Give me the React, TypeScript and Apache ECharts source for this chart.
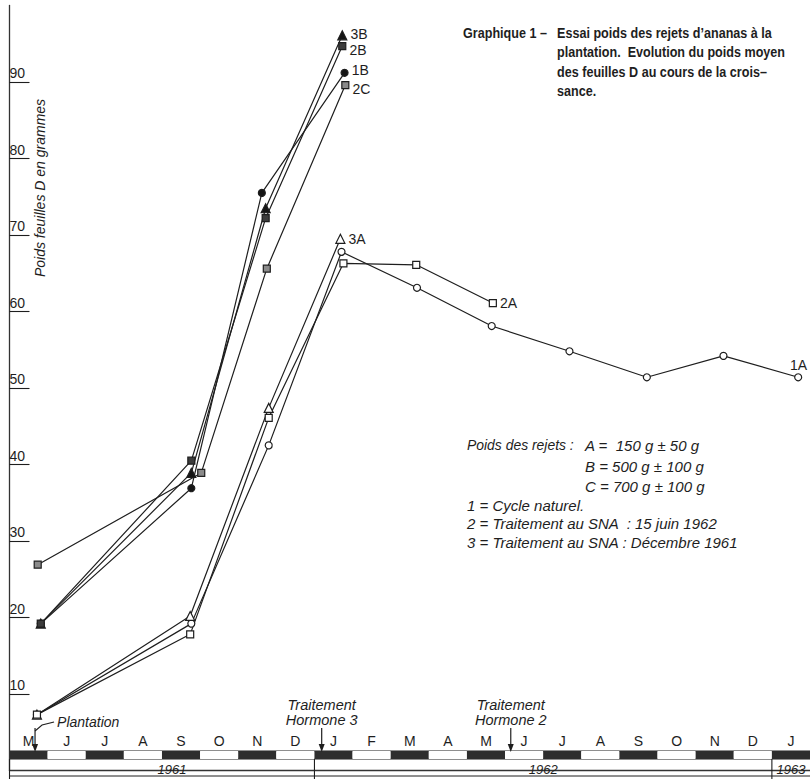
import React, { useEffect, useRef } from 'react';
import * as echarts from 'echarts';

// Month letters of the time band (May 1961 -> Jan 1963)
const monthLetters = ['M', 'J', 'J', 'A', 'S', 'O', 'N', 'D', 'J', 'F', 'M', 'A', 'M', 'J', 'J', 'A', 'S', 'O', 'N', 'D', 'J'];
const yTickValues = [10, 20, 30, 40, 50, 60, 70, 80, 90];

// Dates are expressed in months elapsed since 1 May 1961
const dates1A = [0.72, 4.77, 6.8, 8.71, 10.69, 12.65, 14.69, 16.72, 18.73, 20.69];
const values1A = [7.3, 19.2, 42.5, 67.8, 63.1, 58.1, 54.8, 51.4, 54.2, 51.4];
const dates2A = [0.72, 4.74, 6.8, 8.76, 10.67, 12.68];
const values2A = [7.3, 17.8, 46.1, 66.3, 66.1, 61.1];
const dates3A = [0.72, 4.74, 6.8, 8.68];
const values3A = [7.3, 20.2, 47.4, 69.5];
const dates1B = [0.82, 4.77, 6.62, 8.79];
const values1B = [19.2, 36.9, 75.5, 91.2];
const dates2B = [0.82, 4.77, 6.72, 8.73];
const values2B = [19.2, 40.5, 72.2, 94.7];
const dates3B = [0.82, 4.77, 6.72, 8.73];
const values3B = [19.2, 38.9, 73.5, 96.1];
const dates2C = [0.74, 5.03, 6.75, 8.81];
const values2C = [26.9, 38.9, 65.6, 89.6];

const yearNames = ['1961', '1962', '1963'];
const yearStarts = [0, 8, 20];
const yearEnds = [8, 20, 32];

const annotationDates = [0.67, 8.19, 13.15];
const annotationTexts = ['Plantation', 'Traitement\nHormone 3', 'Traitement\nHormone 2'];

const titleLead = 'Graphique 1 –';
const titleLines = [
  'Essai poids des rejets d’ananas à la',
  'plantation.  Evolution du poids moyen',
  'des feuilles D au cours de la crois–',
  'sance.',
];
const yAxisTitle = 'Poids feuilles D en grammes';
const noteLead = 'Poids des rejets :';
const noteWeights = ['A =  150 g ± 50 g', 'B = 500 g ± 100 g', 'C = 700 g ± 100 g'];
const noteCodes = ['1 = Cycle naturel.', '2 = Traitement au SNA  : 15 juin 1962', '3 = Traitement au SNA : Décembre 1961'];

const INK = '#1e1e1e';
const FONT_HAND = '"Liberation Sans", "DejaVu Sans", sans-serif';

type SeriesDef = { name: string; dates: number[]; values: number[]; symbol: string; fill: string; labelDy: number };

const seriesDefs: SeriesDef[] = [
  { name: '1A', dates: dates1A, values: values1A, symbol: 'circle', fill: '#ffffff', labelDy: 0 },
  { name: '3A', dates: dates3A, values: values3A, symbol: 'triangle', fill: '#ffffff', labelDy: 0 },
  { name: '2A', dates: dates2A, values: values2A, symbol: 'rect', fill: '#ffffff', labelDy: 0 },
  { name: '2C', dates: dates2C, values: values2C, symbol: 'rect', fill: '#8a8a8a', labelDy: 4 },
  { name: '1B', dates: dates1B, values: values1B, symbol: 'circle', fill: '#151515', labelDy: -3 },
  { name: '3B', dates: dates3B, values: values3B, symbol: 'triangle', fill: '#151515', labelDy: -1 },
  { name: '2B', dates: dates2B, values: values2B, symbol: 'rect', fill: '#3c3c3c', labelDy: 4 },
];

export default function App() {
  const ref = useRef<HTMLDivElement>(null);

  useEffect(() => {
    if (!ref.current) return;
    const chart = echarts.init(ref.current, undefined, { renderer: 'svg' });

    const lineSeries = seriesDefs.map((s) => ({
      type: 'line',
      name: s.name,
      xAxisIndex: 0,
      yAxisIndex: 0,
      showAllSymbol: true,
      symbol: s.symbol,
      symbolSize: s.symbol === 'triangle' ? 9 : 7,
      itemStyle: { color: s.fill, borderColor: INK, borderWidth: 1.2 },
      lineStyle: { color: INK, width: 1.2 },
      label: { show: false },
      data: s.values.map((v, i) => {
        if (i === s.values.length - 1) {
          return {
            value: [s.dates[i], v],
            label: {
              show: true,
              formatter: s.name,
              position: s.name === '1A' ? [-4, -15] : 'right',
              distance: 3,
              offset: [0, s.labelDy],
              color: INK,
              fontSize: 14,
              fontFamily: FONT_HAND,
            },
          };
        }
        return [s.dates[i], v];
      }),
    }));

    const annotationSeries = {
      type: 'custom',
      xAxisIndex: 0,
      yAxisIndex: 0,
      clip: false,
      silent: true,
      data: annotationDates.map((d) => [d, 0]),
      renderItem: (params: any, api: any) => {
        const i = params.dataIndex;
        const x = api.coord([api.value(0), 0])[0];
        const bandTop = 751;
        const children: any[] = [
          { type: 'line', shape: { x1: x, y1: 728, x2: x, y2: bandTop - 5 }, style: { stroke: INK, lineWidth: 1.2 } },
          { type: 'polygon', shape: { points: [[x - 3, bandTop - 7], [x + 3, bandTop - 7], [x, bandTop + 1]] }, style: { fill: INK } },
        ];
        if (i === 0) {
          children.push({
            type: 'polyline',
            shape: { points: [[x, 731], [x + 7, 725], [x + 19, 722]] },
            style: { stroke: INK, fill: null, lineWidth: 1.1 },
          });
          children.push({
            type: 'text',
            x: x + 22,
            y: 722,
            style: {
              text: annotationTexts[i], fill: INK, fontSize: 14, fontStyle: 'italic', fontFamily: FONT_HAND,
              align: 'left', verticalAlign: 'middle',
            },
          });
        } else {
          children.push({
            type: 'text',
            x,
            y: 712.5,
            style: {
              text: annotationTexts[i], fill: INK, fontSize: 14.5, fontStyle: 'italic', fontFamily: FONT_HAND,
              align: 'center', verticalAlign: 'middle', lineHeight: 15,
            },
          });
        }
        return { type: 'group', children };
      },
    };

    const yearSeries = {
      type: 'custom',
      xAxisIndex: 0,
      yAxisIndex: 0,
      clip: false,
      silent: true,
      data: yearStarts.map((d) => [d, 0]),
      renderItem: (params: any, api: any) => {
        const i = params.dataIndex;
        const x0 = api.coord([yearStarts[i], 0])[0];
        const x1full = api.coord([yearEnds[i], 0])[0];
        const x1 = Math.min(x1full, api.getWidth());
        const lineY = 776;
        return {
          type: 'group',
          children: [
            { type: 'line', shape: { x1: x0, y1: 759, x2: x0, y2: 779 }, style: { stroke: INK, lineWidth: 1.1 } },
            { type: 'line', shape: { x1: x0, y1: lineY, x2: x1, y2: lineY }, style: { stroke: INK, lineWidth: 1 } },
            {
              type: 'text',
              x: (x0 + x1) / 2 + (i === 0 ? 10 : 0),
              y: lineY,
              style: {
                text: yearNames[i], fill: INK, fontSize: 13, fontStyle: 'italic', fontFamily: FONT_HAND,
                align: 'center', verticalAlign: 'bottom',
              },
            },
          ],
        };
      },
    };

    const textEl = (x: number, y: number, text: string, opts: any = {}, extra: any = {}) => ({
      type: 'text',
      x,
      y,
      silent: true,
      ...extra,
      style: {
        text,
        fill: INK,
        fontSize: 15,
        fontFamily: FONT_HAND,
        fontStyle: 'italic',
        align: 'left',
        textAlign: 'left',
        verticalAlign: 'middle',
        textVerticalAlign: 'middle',
        ...opts,
      },
    });

    const titleY = [33, 52, 72, 91];
    const noteWeightY = [445, 466, 486];
    const noteCodeY = [505, 523, 542];
    const titleStyle = { fontStyle: 'normal', fontWeight: 'bold', fontSize: 15 };
    const condensed = { scaleX: 0.84 };

    const graphics: any[] = [
      textEl(463, titleY[0], titleLead, titleStyle, condensed),
      ...titleLines.map((t, i) => textEl(557, titleY[i], t, titleStyle, condensed)),
      textEl(467, noteWeightY[0], noteLead, { fontSize: 14.5 }, { scaleX: 0.96 }),
      ...noteWeights.map((t, i) => textEl(585, noteWeightY[i], t)),
      ...noteCodes.map((t, i) => textEl(467, noteCodeY[i], t)),
      {
        type: 'text',
        x: 40,
        y: 188,
        rotation: Math.PI / 2,
        silent: true,
        style: {
          text: yAxisTitle, fill: INK, fontSize: 14, fontStyle: 'italic', fontFamily: FONT_HAND,
          align: 'center', textAlign: 'center', verticalAlign: 'middle', textVerticalAlign: 'middle',
        },
      },
    ];

    chart.setOption({
      animation: false,
      backgroundColor: '#ffffff',
      grid: [
        { left: 9.5, top: 5.5, width: 804.3, height: 765 },
        { left: 9.5, top: 751, width: 804.3, height: 8, show: true, borderColor: INK, borderWidth: 1, backgroundColor: 'transparent' },
      ],
      xAxis: [
        {
          gridIndex: 0, type: 'value', min: 0, max: 21, position: 'top',
          axisLine: { show: true, lineStyle: { color: '#333', width: 1.3 } },
          axisTick: { show: false }, axisLabel: { show: false }, splitLine: { show: false },
        },
        {
          gridIndex: 1, type: 'category', data: monthLetters, position: 'top', boundaryGap: true,
          axisLine: { show: false }, axisTick: { show: false },
          axisLabel: { interval: 0, margin: 3, fontSize: 14, color: INK, fontFamily: FONT_HAND },
          splitLine: { show: false },
          splitArea: { show: true, interval: 0, areaStyle: { color: ['#2e2e2e', '#ffffff'] } },
        },
      ],
      yAxis: [
        {
          gridIndex: 0, type: 'value', min: 0, max: 100, interval: 10, offset: 2,
          axisLine: { show: true, lineStyle: { color: '#333', width: 1.3 } },
          axisTick: { show: true, inside: true, length: 20, customValues: yTickValues, lineStyle: { color: INK, width: 1.1 } },
          axisLabel: {
            show: true, inside: true, customValues: yTickValues, margin: 2,
            verticalAlign: 'bottom', lineHeight: 18, fontSize: 14, color: INK, fontFamily: FONT_HAND,
          },
          splitLine: { show: false },
        },
        { gridIndex: 1, type: 'value', min: 0, max: 1, show: false },
      ],
      series: [...lineSeries, annotationSeries, yearSeries],
      graphic: graphics,
    });

    return () => chart.dispose();
  }, []);

  return (
    <div style={{ position: 'fixed', left: 0, top: 0, width: 810, height: 780, overflow: 'hidden', background: '#fff' }}>
      <div ref={ref} style={{ width: 810, height: 780 }} />
    </div>
  );
}
